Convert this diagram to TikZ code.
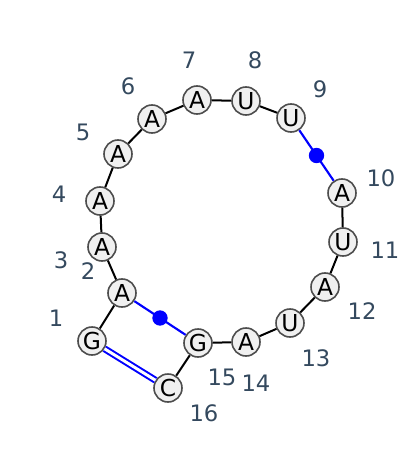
\documentclass[tikz,border=0pt]{standalone}
\usepackage{fontspec}
\setmainfont{DejaVu Sans}
\definecolor{nucfill}{HTML}{F0F0F0}
\definecolor{nucline}{HTML}{4D4D4D}
\definecolor{numcol}{HTML}{34495E}
\tikzset{every picture/.style={line width=0.75pt}}
\tikzset{
  nuc/.style={circle, draw=nucline, fill=nucfill, line width=1.2pt, minimum size=21pt, inner sep=0pt, font=\fontsize{17.5}{17.5}\selectfont},
  num/.style={text=numcol, inner sep=0pt, font=\fontsize{17}{17}\selectfont},
  backbone/.style={draw=black, line width=1.5pt},
  pairline/.style={draw=blue, line width=1.6pt},
  gcpair/.style={draw=blue, line width=1.5pt, double=white, double distance=2.2pt},
  wobble/.style={circle, fill=blue, inner sep=0pt, minimum size=11.5pt}
}

\begin{document}
\begin{tikzpicture}[x=0.75pt,y=0.75pt,yscale=-1,xscale=1]
\useasboundingbox (0,0) rectangle (400,453);

% Nucleotides
\node [nuc] (n1) at (92,341) {G};
\node [nuc] (n2) at (122,293) {A};
\node [nuc] (n3) at (102,247) {A};
\node [nuc] (n4) at (100,201) {A};
\node [nuc] (n5) at (118,154) {A};
\node [nuc] (n6) at (152,119) {A};
\node [nuc] (n7) at (197,100) {A};
\node [nuc] (n8) at (246,101) {U};
\node [nuc] (n9) at (291,118) {U};
\node [nuc] (n10) at (342,193) {A};
\node [nuc] (n11) at (343,242) {U};
\node [nuc] (n12) at (325,287) {A};
\node [nuc] (n13) at (290,323) {U};
\node [nuc] (n14) at (246,342) {A};
\node [nuc] (n15) at (198,343) {G};
\node [nuc] (n16) at (168,388) {C};

% Numbers
\node [num] (l1) at (56,318) {1};
\node [num] (l2) at (88,271) {2};
\node [num] (l3) at (61,260) {3};
\node [num] (l4) at (59,194) {4};
\node [num] (l5) at (83,132) {5};
\node [num] (l6) at (128,86) {6};
\node [num] (l7) at (189,60) {7};
\node [num] (l8) at (255,60) {8};
\node [num] (l9) at (320,89) {9};
\node [num] (l10) at (381,178) {10};
\node [num] (l11) at (385,250) {11};
\node [num] (l12) at (362,311) {12};
\node [num] (l13) at (316,358) {13};
\node [num] (l14) at (256,383) {14};
\node [num] (l15) at (222,377) {15};
\node [num] (l16) at (204,413) {16};

% Backbone
\draw [backbone] (n1) -- (n2);
\draw [backbone] (n2) -- (n3);
\draw [backbone] (n3) -- (n4);
\draw [backbone] (n4) -- (n5);
\draw [backbone] (n5) -- (n6);
\draw [backbone] (n6) -- (n7);
\draw [backbone] (n7) -- (n8);
\draw [backbone] (n8) -- (n9);
\draw [backbone] (n10) -- (n11);
\draw [backbone] (n11) -- (n12);
\draw [backbone] (n12) -- (n13);
\draw [backbone] (n13) -- (n14);
\draw [backbone] (n14) -- (n15);
\draw [backbone] (n15) -- (n16);

% Pairs
\draw [pairline] (n9) -- node [wobble] (d1) {} (n10);
\draw [pairline] (n2) -- node [wobble] (d2) {} (n15);
\draw [gcpair] (n1) -- (n16);

\end{tikzpicture}
\end{document}
